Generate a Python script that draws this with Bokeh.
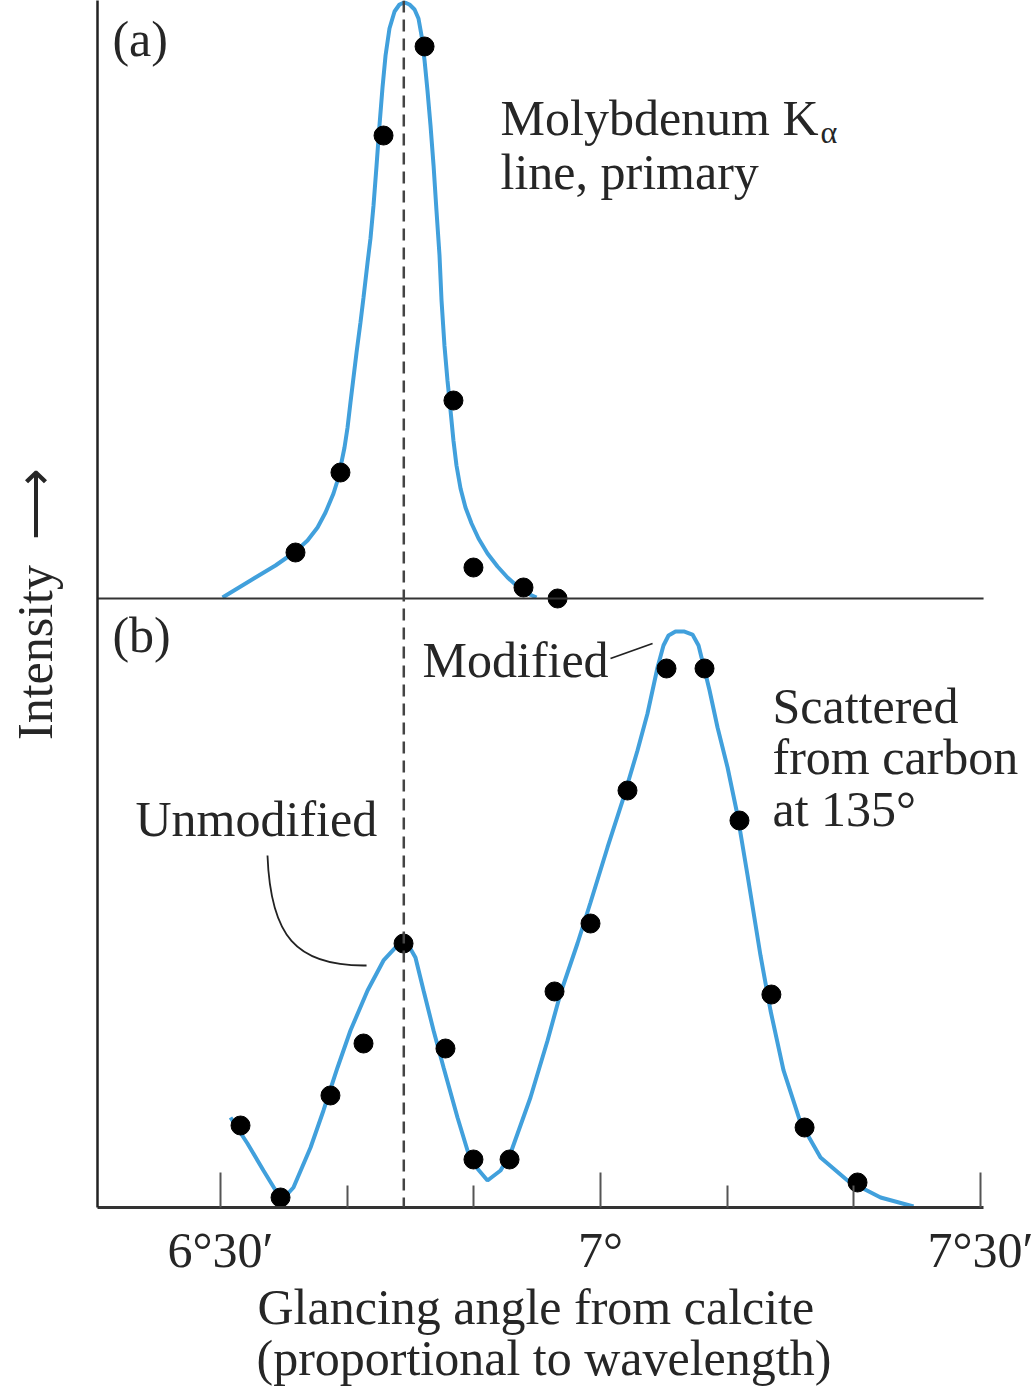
import numpy as np
from bokeh.plotting import figure
from bokeh.models import Range1d, FixedTicker, Span, Label, Title
from bokeh.embed import file_html
from bokeh.resources import INLINE

# x values: glancing angle in arc-minutes (6°30' = 390')
# (a) primary Mo K-alpha line
primary_x = [395.92, 399.47, 402.87, 406.11, 408.39, 409.97, 413.92, 416.61]
primary_y = [7.69, 21.07, 77.42, 92.31, 33.11, 5.18, 1.84, 0.0]
primary_fit_x = [390.16, 392.37, 394.34, 395.92, 396.87, 397.66, 398.29, 398.92, 399.24, 399.47,
                 399.79, 400.03, 400.26, 400.50, 400.74, 401.05, 401.29, 401.61, 401.84, 402.08,
                 402.32, 402.55, 402.79, 403.03, 403.34, 403.74, 404.13, 404.53,
                 404.92, 405.32, 405.63, 405.87, 406.11, 406.34, 406.58, 406.82, 407.05, 407.29,
                 407.45, 407.68, 407.92, 408.16, 408.39, 408.63, 408.95, 409.34, 409.82, 410.37,
                 411.08, 411.87, 412.66, 413.45, 414.24, 414.95]
primary_fit_y = [0.17, 3.01, 5.52, 7.86, 9.70, 11.87, 14.38, 17.56, 19.73, 21.91,
                 25.25, 28.60, 32.78, 36.96, 41.14, 46.15, 50.33, 56.19, 60.20, 65.72,
                 72.41, 79.10, 85.45, 90.80, 95.32, 98.16, 99.33, 99.67,
                 99.33, 98.49, 96.99, 94.15, 89.97, 84.95, 79.10, 72.41, 64.88, 57.36,
                 49.83, 42.31, 36.45, 31.44, 26.42, 22.24, 18.39, 15.22, 12.54, 10.03,
                 7.53, 5.35, 3.51, 2.01, 0.84, 0.17]

# (b) scattered from carbon at 135 deg
scattered_x = [391.58, 394.74, 398.68, 401.29, 404.45, 407.76, 409.97, 412.82, 416.37,
               419.21, 422.13, 425.21, 428.21, 430.97, 433.49, 436.11, 440.29]
scattered_y = [14.26, 1.74, 19.48, 28.52, 45.91, 27.65, 8.35, 8.35, 37.57,
               49.39, 72.52, 93.74, 93.74, 67.30, 37.04, 13.91, 4.35]
scattered_fit_x = [390.79, 392.13, 393.39, 394.50, 394.97, 395.76, 397.11, 398.13, 399.24, 400.26,
                   401.61, 402.87, 403.97, 404.76, 405.39, 406.03, 406.82, 407.61, 408.71, 409.74,
                   411.08, 412.11, 412.89, 414.47, 415.82, 416.84, 418.18, 419.21, 420.55, 421.82,
                   422.92, 423.71, 424.50, 424.97, 425.37, 425.92, 426.63, 427.26, 427.74, 428.13,
                   428.61, 429.24, 430.03, 430.82, 431.61, 432.63, 433.42, 434.45, 435.79, 437.37,
                   439.50, 442.11, 444.71]
scattered_fit_y = [15.65, 11.13, 6.43, 2.43, 1.57, 3.48, 10.43, 16.87, 24.35, 30.78,
                   37.74, 42.96, 45.57, 45.91, 43.48, 37.74, 30.78, 24.35, 15.65, 8.17,
                   4.70, 6.43, 9.39, 19.13, 29.04, 37.22, 45.91, 53.04, 62.61, 71.30,
                   79.48, 85.91, 93.91, 97.74, 99.48, 100.17, 100.17, 99.65, 97.74, 94.26,
                   89.91, 83.48, 76.52, 68.17, 57.74, 43.83, 34.26, 23.83, 14.78, 8.70,
                   4.70, 1.74, 0.17]

unmodified_position = 404.47
axis_start, axis_end = 380.29, 450.24
tick_values = [390, 420, 450]
tick_labels = ["6°30′", "7°", "7°30′"]
minor_tick_values = [400, 410, 430, 440]

BLUE = "#41a0dc"
INK = "#262626"
FONT = "Liberation Serif"
FS = "50px"

p = figure(width=1035, height=1387,
           x_range=Range1d(axis_start, 454.34), y_range=Range1d(0, 209.91),
           output_backend="svg", toolbar_location=None,
           min_border_left=97, min_border_right=0, min_border_top=0, min_border_bottom=180)
p.extra_y_ranges = {"top": Range1d(-101.84, 100.0)}
p.xgrid.visible = False
p.ygrid.visible = False
p.outline_line_color = None
p.background_fill_color = "white"
p.border_fill_color = "white"

# bottom axis
xa = p.xaxis[0]
xa.bounds = (axis_start, axis_end)
xa.ticker = FixedTicker(ticks=tick_values, minor_ticks=minor_tick_values)
xa.major_label_overrides = dict(zip(tick_values, tick_labels))
xa.major_tick_in = 35
xa.major_tick_out = 0
xa.minor_tick_in = 22
xa.minor_tick_out = 0
xa.axis_line_width = 3
xa.axis_line_color = "#333333"
xa.major_tick_line_width = 2
xa.major_tick_line_color = "#555555"
xa.minor_tick_line_width = 2
xa.minor_tick_line_color = "#555555"
xa.major_label_text_font = FONT
xa.major_label_text_font_size = FS
xa.major_label_text_color = INK
xa.major_label_standoff = 14

# x-axis title, two lines
p.add_layout(Title(text="Glancing angle from calcite", align="left", offset=160,
                   text_font=FONT, text_font_size=FS, text_font_style="normal",
                   text_color=INK, standoff=-8), "below")
p.add_layout(Title(text="(proportional to wavelength)", align="left", offset=159,
                   text_font=FONT, text_font_size=FS, text_font_style="normal",
                   text_color=INK, standoff=-6), "below")

# left axis: plain line with its title
ya = p.yaxis[0]
ya.ticker = FixedTicker(ticks=[])
ya.major_tick_line_color = None
ya.minor_tick_line_color = None
ya.major_tick_out = 0
ya.major_label_standoff = 0
ya.major_label_text_font_size = "0px"
ya.axis_line_width = 2.5
ya.axis_line_color = "#222222"
ya.axis_label = "Intensity\u2002⟶"
ya.axis_label_text_font = FONT
ya.axis_label_text_font_size = FS
ya.axis_label_text_font_style = "normal"
ya.axis_label_text_color = INK
ya.axis_label_standoff = 35

# curves and points
p.line(primary_fit_x, primary_fit_y, y_range_name="top", line_color=BLUE, line_width=4)
p.scatter(primary_x, primary_y, y_range_name="top", size=19, color="black")
p.line(scattered_fit_x, scattered_fit_y, line_color=BLUE, line_width=4)
p.scatter(scattered_x, scattered_y, size=19, color="black")

# baseline of panel (a) and unmodified-line marker
p.segment(x0=[axis_start], y0=[0], x1=[axis_end], y1=[0], y_range_name="top",
          line_color="#333333", line_width=2)
p.add_layout(Span(location=unmodified_position, dimension="height",
                  line_color="#444444", line_width=2.5, line_dash="12 7"))

# leader lines
p.segment(x0=[420.79], y0=[95.48], x1=[424.11], y1=[98.09], line_color="#222222", line_width=1.8)
p.bezier(x0=[393.71], y0=[61.22], x1=[401.53], y1=[42.09],
         cx0=[393.95], cy0=[47.30], cx1=[395.92], cy1=[41.91],
         line_color="#222222", line_width=1.8)


def lab(text, x, y, size=FS):
    p.add_layout(Label(x=x, y=y, text=text, text_font=FONT, text_font_size=size,
                       text_color=INK, text_align="left", text_baseline="middle"))


lab("(a)", 381.47, 203.13)
lab("(b)", 381.47, 99.65)
lab("Molybdenum K", 412.11, 189.39)
lab("α", 437.37, 186.96, size="32px")
lab("line, primary", 412.11, 180.17)
lab("Modified", 405.95, 95.30)
lab("Scattered", 433.58, 87.30)
lab("from carbon", 433.58, 78.26)
lab("at 135°", 433.58, 69.22)
lab("Unmodified", 383.29, 67.48)

open("out.html", "w").write(file_html(p, INLINE))
